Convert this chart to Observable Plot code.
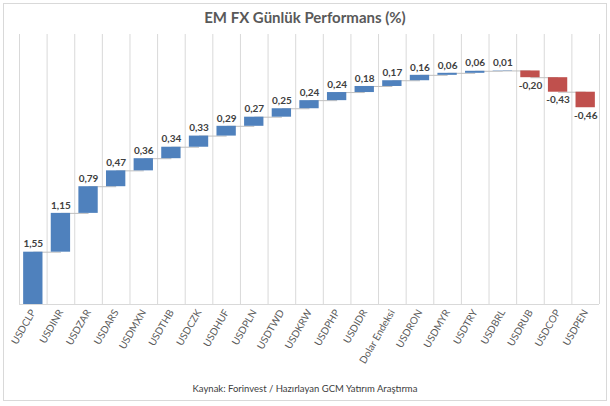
<!DOCTYPE html>
<html><head><meta charset="utf-8">
<script src="https://cdn.jsdelivr.net/npm/d3@7"></script>
<script src="https://cdn.jsdelivr.net/npm/@observablehq/plot@0.6"></script>
<style>
body{margin:0;background:#fff;font-family:Lato,sans-serif}
#wrap{position:relative;width:610px;height:406px;}
#frame{position:absolute;left:3px;top:3px;width:604px;height:398px;box-sizing:border-box;border:1px solid #d9d9d9;pointer-events:none}
#title{height:30px;line-height:34px;text-align:center;font-weight:bold;font-size:15px;color:#595959}
#caption{height:26px;line-height:27px;text-align:center;font-size:9.5px;color:#404040}
svg{display:block}
</style></head><body>
<div id="wrap"><div id="frame"></div><div id="title">EM FX Günlük Performans (%)</div><div id="chart"></div><div id="caption">Kaynak: Forinvest / Hazırlayan GCM Yatırım Araştırma</div></div>
<script>
const categories = ["USDCLP","USDINR","USDZAR","USDARS","USDMXN","USDTHB","USDCZK","USDHUF","USDPLN","USDTWD","USDKRW","USDPHP","USDIDR","Dolar Endeksi","USDRON","USDMYR","USDTRY","USDBRL","USDRUB","USDCOP","USDPEN"];
const values = [1.55,1.15,0.79,0.47,0.36,0.34,0.33,0.29,0.27,0.25,0.24,0.24,0.18,0.17,0.16,0.06,0.06,0.01,-0.20,-0.43,-0.46];

let cum = 0;
const rows = categories.map((c, i) => {
  const start = cum;
  cum = Math.round((cum + values[i]) * 100) / 100;
  return {cat: c, value: values[i], start, end: cum, next: categories[i + 1]};
});
const fmt = v => v.toFixed(2).replace(".", ",");

const W = 610, H = 345, ML = 19, MR = 11;
const step = (W - ML - MR) / categories.length;

const chart = Plot.plot({
  width: W, height: H,
  marginLeft: ML, marginRight: MR, marginTop: 4, marginBottom: 71,
  style: {fontFamily: "Lato, sans-serif", fontSize: "10px", color: "#595959", background: "white"},
  x: {domain: categories, round: false, paddingInner: 0.3, paddingOuter: 0.15, tickRotate: -60, tickSize: 0, tickPadding: 6, label: null},
  y: {domain: [0, 8], axis: null},
  marks: [
    Plot.ruleX(categories, {x: d => d, dx: -step / 2, stroke: "#d9d9d9"}),
    Plot.ruleX(categories.slice(-1), {x: d => d, dx: step / 2, stroke: "#d9d9d9"}),
    Plot.ruleY([0], {stroke: "#d9d9d9"}),
    Plot.link(rows.slice(0, -1), {x1: "cat", x2: "next", y1: "end", y2: "end", stroke: "#bfbfbf", strokeWidth: 1}),
    Plot.barY(rows, {x: "cat", y1: "start", y2: "end", fill: d => d.value >= 0 ? "#4f81bd" : "#c0504d"}),
    Plot.text(rows.filter(d => d.value >= 0), {x: "cat", y: "end", dy: -8, text: d => fmt(d.value), fontWeight: "bold", fontSize: 10, fill: "#404040"}),
    Plot.text(rows.filter(d => d.value < 0), {x: "cat", y: "end", dy: 8, text: d => fmt(d.value), fontWeight: "bold", fontSize: 10, fill: "#404040"})
  ]
});
document.getElementById("chart").appendChild(chart);
</script>
</body></html>
